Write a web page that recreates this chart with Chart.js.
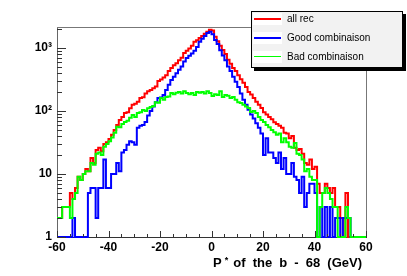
<!DOCTYPE html>
<html>
<head>
<meta charset="utf-8">
<script src="https://cdn.jsdelivr.net/npm/chart.js@4.4.1/dist/chart.umd.min.js"></script>
<style>
    html, body { margin: 0; padding: 0; background: #fff; }
    #wrap { position: relative; width: 407px; height: 276px; }
    #legend {
        position: absolute; left: 251px; top: 11px; width: 150px; height: 55px;
        background: #f2f2f2; border: 1px solid #000; box-shadow: 3px 3px 0 #000;
        font: 10px 'Liberation Sans', Arial, sans-serif; color: #000;
    }
    .item { position: absolute; left: 0; width: 150px; height: 12px; line-height: 12px; }
    .swatch { position: absolute; left: 1px; top: 0; width: 29px; height: 12px; background: #fff; }
    .swatch i { position: absolute; left: 1px; right: 1px; }
    .lbl { position: absolute; left: 35px; top: 0; white-space: nowrap; }
    #xtitle {
        position: absolute; left: 213px; top: 256px; white-space: nowrap;
        font: bold 13px 'Liberation Sans', Arial, sans-serif; line-height: 13px;
        word-spacing: 3.5px; color: #000;
    }
    #xtitle .star { font-size: 9px; position: relative; top: -4px; margin: 0 -2px 0 3px; }
</style>
</head>
<body>
<div id="wrap">
    <canvas id="c" width="407" height="276"></canvas>
    <div id="legend"></div>
    <div id="xtitle">P<span class="star">*</span> of the b - 68 (GeV)</div>
</div>
<script>
// histogram binning: 120 bins of 1 GeV from -60 to 60
const xMin = -60;
const xMax = 60;
const binWidth = 1;

const xTickValues = [-60, -40, -20, 0, 20, 40, 60];
const yTickValues = [1, 10, 100, 1000];
const yTickLabels = ['1', '10', '10²', '10³'];

const seriesNames = ['all rec', 'Good combinaison', 'Bad combinaison'];

// bin contents, bins starting at -60
const allRec = [
    2, 2, 3, 3, 3, 5, 4, 6, 9, 8,
    10, 12, 11, 18, 15, 24, 26, 23, 30, 32,
    36, 42, 50, 60, 72, 80, 93, 95, 110, 125,
    130, 140, 160, 165, 190, 205, 215, 230, 245, 300,
    315, 340, 370, 430, 480, 530, 570, 640, 700, 830,
    900, 980, 1080, 1250, 1330, 1440, 1550, 1680, 1800, 1950,
    1900, 1500, 1280, 1080, 930, 800, 650, 560, 480, 430,
    370, 320, 280, 240, 200, 182, 160, 140, 125, 111,
    95, 88, 80, 74, 66, 62, 58, 54, 45, 44,
    37, 40, 26, 24, 25, 21, 15, 14, 17, 12,
    13, 7, 5, 5, 7, 6, 5, 6, 3, 3,
    2, 0, 5, 0, 0, 0, 0, 0, 0, 0
];
const goodComb = [
    0, 0, 0, 0, 0, 0, 2, 0, 0, 0,
    0, 0, 5, 6, 6, 2, 6, 6, 17, 6,
    6, 10, 10, 15, 11, 22, 24, 29, 33, 32,
    29, 54, 58, 60, 67, 85, 100, 118, 138, 160,
    163, 180, 215, 260, 310, 350, 395, 450, 510, 610,
    690, 750, 820, 900, 1040, 1250, 1400, 1550, 1720, 1800,
    1650, 1340, 1150, 920, 760, 640, 510, 430, 350, 290,
    240, 190, 150, 125, 105, 88, 76, 64, 54, 44,
    20, 37, 22, 22, 18, 15, 22, 12, 18, 10,
    10, 15, 9, 8, 5, 9, 3, 5, 7, 7,
    5, 0, 3, 0, 3, 0, 3, 0, 2, 2,
    0, 2, 2, 2, 0, 0, 0, 0, 0, 0
];
const badComb = [
    2, 2, 3, 3, 3, 2, 4, 5, 9, 8,
    10, 11, 11, 15, 14, 21, 22, 20, 27, 30,
    33, 38, 45, 56, 55, 62, 67, 70, 78, 86,
    80, 93, 95, 104, 100, 110, 116, 120, 138, 135,
    160, 150, 166, 170, 193, 185, 195, 200, 190, 205,
    193, 185, 193, 180, 200, 195, 200, 190, 205, 193,
    172, 185, 180, 205, 166, 180, 175, 160, 166, 150,
    138, 134, 125, 118, 111, 96, 100, 93, 80, 72,
    67, 60, 55, 50, 46, 42, 44, 32, 37, 32,
    27, 26, 31, 21, 20, 17, 11, 12, 9, 8,
    8, 0, 3, 5, 6, 5, 4, 3, 3, 0,
    0, 0, 3, 2, 0, 0, 0, 0, 0, 0
];

const colors = ['#ff0000', '#0000ff', '#00ff00'];
const yMin = 1;
const yMax = 2150;

// outline of a histogram: two points per bin, empty bins sit on the log axis floor
function histPoints(values) {
    const pts = [];
    values.forEach((v, i) => {
        const lo = xMin + i * binWidth;
        const y = Math.max(v, yMin);
        pts.push({ x: lo, y: y }, { x: lo + binWidth, y: y });
    });
    return pts;
}

const frameAndTicks = {
    id: 'frameAndTicks',
    afterDatasetsDraw(chart) {
        const { ctx, chartArea: a, scales: { x, y } } = chart;
        ctx.save();
        ctx.lineWidth = 1;
        ctx.strokeStyle = '#777';
        ctx.beginPath();
        ctx.moveTo(a.left, a.top + 0.5);
        ctx.lineTo(a.right + 0.5, a.top + 0.5);
        ctx.lineTo(a.right + 0.5, a.bottom);
        ctx.stroke();

        ctx.strokeStyle = '#333';
        ctx.beginPath();
        for (let v = xMin; v <= xMax; v += 5) {
            const px = Math.round(x.getPixelForValue(v)) + 0.5;
            const len = v % 20 === 0 ? 6 : 3;
            ctx.moveTo(px, a.bottom);
            ctx.lineTo(px, a.bottom - len);
        }
        for (let dec = 1; dec <= yMax; dec *= 10) {
            for (let m = 1; m <= 9; m++) {
                const v = m * dec;
                if (v > yMax) break;
                const py = Math.round(y.getPixelForValue(v)) + 0.5;
                ctx.moveTo(a.left, py);
                ctx.lineTo(a.left + (m === 1 ? 9 : 5), py);
            }
        }
        ctx.stroke();
        ctx.restore();
    }
};

const tickFont = { family: "'Liberation Sans', Arial, sans-serif", size: 12, weight: 'bold' };

const series = [allRec, goodComb, badComb];
const datasets = series.map((vals, i) => ({
    label: seriesNames[i],
    data: histPoints(vals),
    borderColor: colors[i],
    backgroundColor: colors[i],
    borderWidth: 2,
    pointRadius: 0,
    fill: false,
    tension: 0,
    clip: false,
    order: 3 - i
}));

new Chart(document.getElementById('c').getContext('2d'), {
    type: 'line',
    data: { datasets: datasets },
    options: {
        responsive: false,
        animation: false,
        devicePixelRatio: 1,
        layout: { padding: { left: 0, top: 27, right: 41, bottom: 0 } },
        plugins: {
            legend: { display: false },
            tooltip: { enabled: false }
        },
        scales: {
            x: {
                type: 'linear',
                min: xMin,
                max: xMax,
                afterFit: s => { s.height = 39; },
                afterBuildTicks: s => { s.ticks = xTickValues.map(v => ({ value: v })); },
                ticks: {
                    autoSkip: false, maxRotation: 0, padding: 3,
                    color: '#000', font: tickFont,
                    callback: v => String(v)
                },
                grid: { drawOnChartArea: false, drawTicks: false },
                border: { color: '#333', width: 1 }
            },
            y: {
                type: 'logarithmic',
                min: yMin,
                max: yMax,
                afterFit: s => { s.width = 57; },
                afterBuildTicks: s => { s.ticks = yTickValues.map(v => ({ value: v })); },
                ticks: {
                    autoSkip: false, padding: 5,
                    color: '#000', font: tickFont,
                    callback: (v, i) => yTickLabels[i]
                },
                grid: { drawOnChartArea: false, drawTicks: false },
                border: { color: '#666', width: 1 }
            }
        }
    },
    plugins: [frameAndTicks]
});

// legend box, built from the same names and colours
const legend = document.getElementById('legend');
const rowTops = [1, 20, 39];
const lineWidths = [2, 2, 1];
seriesNames.forEach((name, i) => {
    const row = document.createElement('div');
    row.className = 'item';
    row.style.top = rowTops[i] + 'px';
    const sw = document.createElement('div');
    sw.className = 'swatch';
    const ln = document.createElement('i');
    ln.style.background = colors[i];
    ln.style.height = lineWidths[i] + 'px';
    ln.style.top = (6 - Math.ceil(lineWidths[i] / 2)) + 'px';
    sw.appendChild(ln);
    const lbl = document.createElement('span');
    lbl.className = 'lbl';
    lbl.textContent = name;
    row.appendChild(sw);
    row.appendChild(lbl);
    legend.appendChild(row);
});
</script>
</body>
</html>
